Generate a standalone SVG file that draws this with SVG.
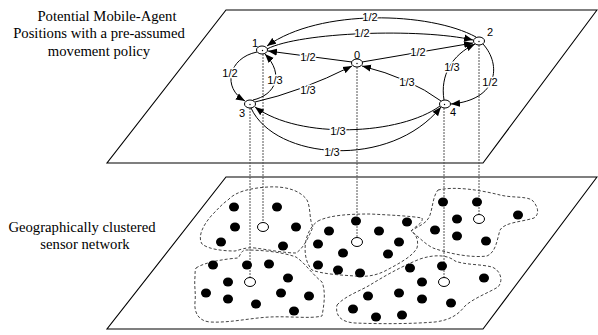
<svg xmlns="http://www.w3.org/2000/svg" width="598" height="335" viewBox="0 0 598 335">
<defs>
<marker id="arr" markerUnits="userSpaceOnUse" markerWidth="10" markerHeight="8" refX="9" refY="4" orient="auto">
<path d="M0,0.5 L9,4 L0,7.5 Z" fill="#000"/>
</marker>
<style>
.plane{fill:none;stroke:#000;stroke-width:1.1}
.edge{fill:none;stroke:#000;stroke-width:1;marker-end:url(#arr)}
.lbl{font-family:"Liberation Sans",Arial,sans-serif;font-size:11px;text-anchor:middle;fill:#000;stroke:#fff;stroke-width:3;paint-order:stroke;stroke-linejoin:round}
.nlbl{font-family:"Liberation Sans",Arial,sans-serif;font-size:11px;text-anchor:middle;fill:#000}
.cap{font-family:"Liberation Serif","Times New Roman",serif;font-size:14.7px;text-anchor:middle;fill:#000}
.node{fill:#fff;stroke:#000;stroke-width:1}
.vline{stroke:#555;stroke-width:1;stroke-dasharray:2,1;fill:none}
.cluster{fill:none;stroke:#444;stroke-width:1;stroke-dasharray:3,2}
.dot{fill:#000}
.open{fill:#fff;stroke:#000;stroke-width:1}
</style>
</defs>

<g id="planes">
<polygon class="plane" points="226,10 597,10 483,163 107,163"/>
<polygon class="plane" points="226,177 597,177 483,329 107,329"/>
</g>

<g id="captions" style="font-family:'Liberation Serif','Times New Roman',serif">
<text class="cap" x="107" y="20.5">Potential Mobile-Agent</text>
<text class="cap" x="99" y="38">Positions with a pre-assumed</text>
<text class="cap" x="99" y="55.5">movement policy</text>
<text class="cap" x="82" y="232">Geographically clustered</text>
<text class="cap" x="85" y="249">sensor network</text>
</g>

<g id="projections">
<line class="vline" x1="263" y1="54" x2="263" y2="222.5"/>
<line class="vline" x1="250" y1="108" x2="250" y2="277.5"/>
<line class="vline" x1="357" y1="67" x2="357" y2="237.5"/>
<line class="vline" x1="444" y1="108" x2="444" y2="277.5"/>
<line class="vline" x1="479" y1="45" x2="479" y2="214.5"/>
</g>

<g id="clusters">
<path class="cluster" d="M228,200 C236,191 252,188 268,187 C285,186 300,190 307,200 C311,208 309,220 313,227 C309,236 304,248 296,253 C285,253 270,250 255,248 C245,247 240,250 235,251 C222,251 208,249 202,244 C197,236 204,224 212,215 C218,209 222,204 228,200 Z"/>
<path class="cluster" d="M196,268 C205,262 225,259 238,258 C241,255 240,251 246,250 C262,250 282,252 296,257 C305,263 312,274 322,282 C326,292 324,305 322,316 C310,319 290,316 270,317 C250,318 230,323 210,322 C198,321 194,312 195,302 C196,293 194,285 195,277 C195,273 195,270 196,268 Z"/>
<path class="cluster" d="M318,221 C330,215 350,214 370,214 C390,215 410,216 422,218 C424,223 414,227 411,231 C416,234 419,240 417,248 C412,257 398,264 385,271 C375,276 365,277 355,276 C340,275 322,274 312,270 C305,262 304,250 306,240 C308,232 312,225 318,221 Z"/>
<path class="cluster" d="M438,190 C455,186 480,190 500,195 C512,198 525,196 532,200 C538,206 540,214 534,218 C522,222 505,222 500,230 C497,240 496,252 487,256 C472,258 450,254 433,248 C425,244 420,238 411,231 C418,226 427,224 430,215 C433,206 433,196 438,190 Z"/>
<path class="cluster" d="M337,305 C345,296 360,291 370,285 C383,277 400,267 420,259 C435,254 448,255 455,261 C465,265 480,264 492,267 C500,270 504,280 498,287 C488,293 474,298 465,306 C458,315 450,320 435,322 C410,324 380,324 355,323 C340,322 335,315 337,305 Z"/>
</g>

<g id="sensors">
<ellipse class="dot" cx="234" cy="207" rx="5" ry="4.5"/>
<ellipse class="dot" cx="277" cy="207" rx="5" ry="4.5"/>
<ellipse class="dot" cx="235" cy="227" rx="5" ry="4.5"/>
<ellipse class="dot" cx="296" cy="227" rx="5" ry="4.5"/>
<ellipse class="dot" cx="221" cy="242" rx="5" ry="4.5"/>
<ellipse class="dot" cx="283" cy="246" rx="5" ry="4.5"/>
<ellipse class="dot" cx="213" cy="265" rx="5" ry="4.5"/>
<ellipse class="dot" cx="247" cy="265" rx="5" ry="4.5"/>
<ellipse class="dot" cx="269" cy="264" rx="5" ry="4.5"/>
<ellipse class="dot" cx="228" cy="282" rx="5" ry="4.5"/>
<ellipse class="dot" cx="288" cy="278" rx="5" ry="4.5"/>
<ellipse class="dot" cx="206" cy="293" rx="5" ry="4.5"/>
<ellipse class="dot" cx="228" cy="299" rx="5" ry="4.5"/>
<ellipse class="dot" cx="256" cy="304" rx="5" ry="4.5"/>
<ellipse class="dot" cx="281" cy="293" rx="5" ry="4.5"/>
<ellipse class="dot" cx="309" cy="296" rx="5" ry="4.5"/>
<ellipse class="dot" cx="294" cy="311" rx="5" ry="4.5"/>
<ellipse class="dot" cx="356" cy="221" rx="5" ry="4.5"/>
<ellipse class="dot" cx="407" cy="222" rx="5" ry="4.5"/>
<ellipse class="dot" cx="329" cy="231" rx="5" ry="4.5"/>
<ellipse class="dot" cx="379" cy="231" rx="5" ry="4.5"/>
<ellipse class="dot" cx="318" cy="244" rx="5" ry="4.5"/>
<ellipse class="dot" cx="399" cy="242" rx="5" ry="4.5"/>
<ellipse class="dot" cx="343" cy="253" rx="5" ry="4.5"/>
<ellipse class="dot" cx="388" cy="254" rx="5" ry="4.5"/>
<ellipse class="dot" cx="318" cy="265" rx="5" ry="4.5"/>
<ellipse class="dot" cx="338" cy="270" rx="5" ry="4.5"/>
<ellipse class="dot" cx="360" cy="273" rx="5" ry="4.5"/>
<ellipse class="dot" cx="443" cy="202" rx="5" ry="4.5"/>
<ellipse class="dot" cx="477" cy="202" rx="5" ry="4.5"/>
<ellipse class="dot" cx="457" cy="219" rx="5" ry="4.5"/>
<ellipse class="dot" cx="518" cy="215" rx="5" ry="4.5"/>
<ellipse class="dot" cx="435" cy="230" rx="5" ry="4.5"/>
<ellipse class="dot" cx="457" cy="236" rx="5" ry="4.5"/>
<ellipse class="dot" cx="486" cy="241" rx="5" ry="4.5"/>
<ellipse class="dot" cx="442" cy="266" rx="5" ry="4.5"/>
<ellipse class="dot" cx="410" cy="268" rx="5" ry="4.5"/>
<ellipse class="dot" cx="484" cy="278" rx="5" ry="4.5"/>
<ellipse class="dot" cx="422" cy="282" rx="5" ry="4.5"/>
<ellipse class="dot" cx="368" cy="296" rx="5" ry="4.5"/>
<ellipse class="dot" cx="399" cy="293" rx="5" ry="4.5"/>
<ellipse class="dot" cx="422" cy="299" rx="5" ry="4.5"/>
<ellipse class="dot" cx="451" cy="303" rx="5" ry="4.5"/>
<ellipse class="dot" cx="353" cy="309" rx="5" ry="4.5"/>
<ellipse class="dot" cx="376" cy="317" rx="5" ry="4.5"/>
<ellipse class="dot" cx="402" cy="315" rx="5" ry="4.5"/>
</g>

<g id="agent-sites">
<ellipse class="open" cx="263" cy="227" rx="5.5" ry="4.5"/>
<ellipse class="open" cx="250" cy="282" rx="5.5" ry="4.5"/>
<ellipse class="open" cx="357" cy="242" rx="5.5" ry="4.5"/>
<ellipse class="open" cx="444" cy="282" rx="5.5" ry="4.5"/>
<ellipse class="open" cx="479" cy="219" rx="5.5" ry="4.5"/>
</g>

<g id="connectors">
<path class="edge" d="M476,37 C430,12 320,8 267,46"/>
<path class="edge" d="M267,49 C300,32 420,28 473,40"/>
<path class="edge" d="M352,62 L268,51"/>
<path class="edge" d="M362,62 L473,43"/>
<path class="edge" d="M257,52 C228,58 222,88 245,101"/>
<path class="edge" d="M253,100 C275,95 285,75 265,54"/>
<path class="edge" d="M255,102 Q300,92 352,66"/>
<path class="edge" d="M441,101 Q410,78 362,66"/>
<path class="edge" d="M444,100 C440,75 452,55 475,44"/>
<path class="edge" d="M483,44 C502,65 498,100 451,104"/>
<path class="edge" d="M440,106 C400,135 300,140 255,107"/>
<path class="edge" d="M251,108 C275,160 390,170 441,107"/>
<text class="lbl" x="370" y="21">1/2</text>
<text class="lbl" x="362" y="37">1/2</text>
<text class="lbl" x="308" y="61">1/2</text>
<text class="lbl" x="418" y="56">1/2</text>
<text class="lbl" x="230" y="77">1/2</text>
<text class="lbl" x="490" y="86">1/2</text>
<text class="lbl" x="275" y="84">1/3</text>
<text class="lbl" x="308" y="94">1/3</text>
<text class="lbl" x="407" y="86">1/3</text>
<text class="lbl" x="452" y="71">1/3</text>
<text class="lbl" x="338" y="135">1/3</text>
<text class="lbl" x="332" y="156">1/3</text>
</g>

<g id="node-1"><ellipse class="node" cx="262" cy="50" rx="5.5" ry="4"/><circle cx="262.5" cy="50.5" r="0.7"/><text class="nlbl" x="255" y="47">1</text></g>
<g id="node-0"><ellipse class="node" cx="357" cy="63" rx="5.5" ry="4"/><circle cx="357" cy="63.5" r="0.7"/><text class="nlbl" x="357" y="58.5">0</text></g>
<g id="node-2"><ellipse class="node" cx="479" cy="41" rx="5.5" ry="4"/><circle cx="479" cy="41.5" r="0.7"/><text class="nlbl" x="490" y="36">2</text></g>
<g id="node-3"><ellipse class="node" cx="250" cy="104" rx="5.5" ry="4"/><circle cx="250" cy="104.5" r="0.7"/><text class="nlbl" x="242" y="117">3</text></g>
<g id="node-4"><ellipse class="node" cx="445" cy="104" rx="5.5" ry="4"/><circle cx="444.5" cy="104.5" r="0.7"/><text class="nlbl" x="453" y="116">4</text></g>
</svg>
